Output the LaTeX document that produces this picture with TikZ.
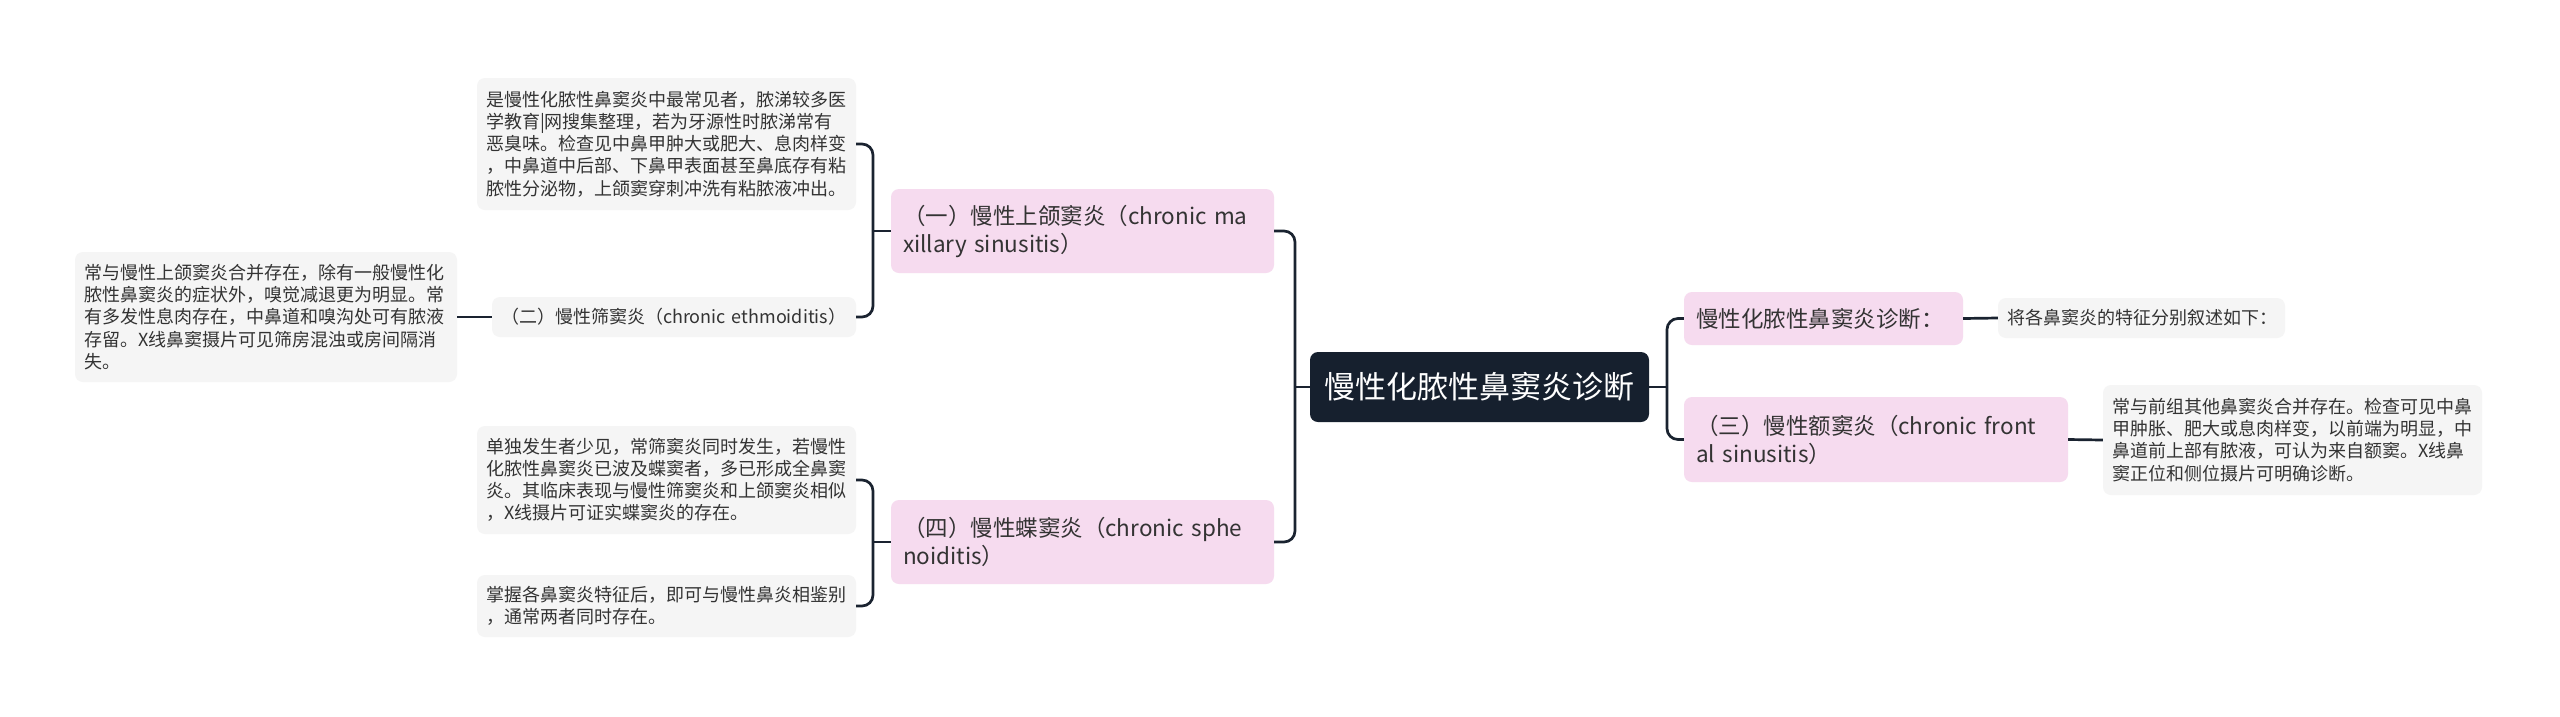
\documentclass[tikz,border=0pt]{standalone}
\usepackage{fontspec}
\setmainfont{Noto Sans CJK SC}
\definecolor{rootc}{HTML}{16202E}
\definecolor{linec}{HTML}{1A2330}
\definecolor{pinkc}{HTML}{F6DBEF}
\definecolor{grayc}{HTML}{F5F5F5}
\definecolor{textc}{HTML}{333333}
\tikzset{
  rootbox/.style={fill=rootc, rounded corners=8pt, text=white, align=center,
    font=\fontsize{31pt}{37pt}\selectfont, inner sep=0pt},
  topicbox/.style={fill=pinkc, rounded corners=8pt, text=textc, align=left,
    font=\fontsize{22.5pt}{28pt}\selectfont, inner xsep=12pt, inner ysep=0pt},
  leafbox/.style={fill=grayc, rounded corners=8pt, text=textc, align=left,
    font=\fontsize{18pt}{22.2pt}\selectfont, inner xsep=9pt, inner ysep=0pt},
  conn/.style={draw=linec, line width=2.7pt},
  brk/.style={draw=linec, line width=2.7pt, rounded corners=11pt},
}
\begin{document}
\begin{tikzpicture}[x=1pt,y=-1pt]
\useasboundingbox[fill=white] (0,0) rectangle (2560,716);

% root
\node[rootbox, minimum width=339pt, minimum height=70pt] (root) at (1479.5,387) {慢性化脓性鼻窦炎诊断};

% left topics
\node[topicbox, minimum height=84pt, text width=359pt] (n1) at (1082.5,231)
  {（一）慢性上颌窦炎（chronic~ma\\xillary~sinusitis）};
\node[topicbox, minimum height=84pt, text width=359pt] (n4) at (1082.5,542)
  {（四）慢性蝶窦炎（chronic~sphe\\noiditis）};

% left leaves
\node[leafbox, minimum height=132pt, text width=361pt] (l1) at (666.5,144)
  {是慢性化脓性鼻窦炎中最常见者，脓涕较多医\\学教育|网搜集整理，若为牙源性时脓涕常有\\恶臭味。检查见中鼻甲肿大或肥大、息肉样变\\，中鼻道中后部、下鼻甲表面甚至鼻底存有粘\\脓性分泌物，上颌窦穿刺冲洗有粘脓液冲出。};
\node[leafbox, minimum height=40pt, text width=346pt] (er) at (674,317)
  {（二）慢性筛窦炎（chronic~ethmoiditis）};
\node[leafbox, minimum height=130pt, text width=364pt] (l2) at (266,317)
  {常与慢性上颌窦炎合并存在，除有一般慢性化\\脓性鼻窦炎的症状外，嗅觉减退更为明显。常\\有多发性息肉存在，中鼻道和嗅沟处可有脓液\\存留。X线鼻窦摄片可见筛房混浊或房间隔消\\失。};
\node[leafbox, minimum height=108pt, text width=361pt] (l4) at (666.5,480)
  {单独发生者少见，常筛窦炎同时发生，若慢性\\化脓性鼻窦炎已波及蝶窦者，多已形成全鼻窦\\炎。其临床表现与慢性筛窦炎和上颌窦炎相似\\，X线摄片可证实蝶窦炎的存在。};
\node[leafbox, minimum height=62pt, text width=361pt] (l5) at (666.5,606)
  {掌握各鼻窦炎特征后，即可与慢性鼻炎相鉴别\\，通常两者同时存在。};

% right topics
\node[topicbox, minimum height=53pt, text width=255pt] (r1) at (1823.5,318.5)
  {慢性化脓性鼻窦炎诊断：};
\node[topicbox, minimum height=85pt, text width=360pt] (r2) at (1876,439.5)
  {（三）慢性额窦炎（chronic~front\\al~sinusitis）};

% right leaves
\node[leafbox, minimum height=40pt, text width=269pt] (rl1) at (2141.5,318)
  {将各鼻窦炎的特征分别叙述如下：};
\node[leafbox, minimum height=110pt, text width=361pt] (rl2) at (2292.5,440)
  {常与前组其他鼻窦炎合并存在。检查可见中鼻\\甲肿胀、肥大或息肉样变，以前端为明显，中\\鼻道前上部有脓液，可认为来自额窦。X线鼻\\窦正位和侧位摄片可明确诊断。};

% bracket junctions
\coordinate (mx) at (1295,387);
\coordinate (rx) at (1667,387);
\coordinate (lx1) at (873,231);
\coordinate (lx2) at (873,542);

% connectors
\draw[conn] (root.west) -- (mx);
\draw[brk] (n1.east) -| (mx) |- (n4.east);
\draw[conn] (root.east) -- (rx);
\draw[brk] (r1.west) -| (rx) |- (r2.west);
\draw[conn] (n1.west) -- (lx1);
\draw[brk] (l1.east) -| (lx1) |- (er.east);
\draw[conn] (n4.west) -- (lx2);
\draw[brk] (l4.east) -| (lx2) |- (l5.east);
\draw[conn] (er.west) -- (l2.east);
\draw[conn] (r1.east) -- (rl1.west);
\draw[conn] (r2.east) -- (rl2.west);
\end{tikzpicture}
\end{document}
